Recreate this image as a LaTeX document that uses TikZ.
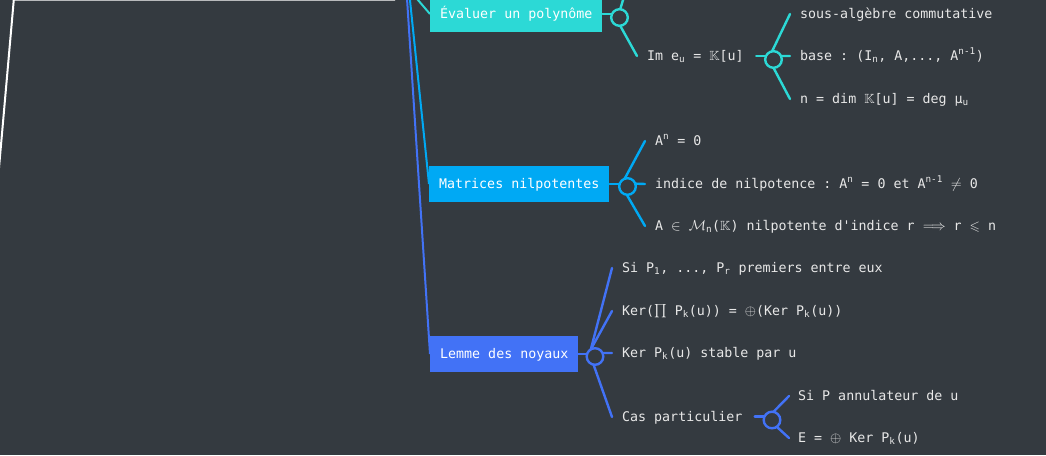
\documentclass[tikz,border=0pt]{standalone}
\usepackage{fontspec}
\usepackage{amssymb}
\setmonofont{DejaVu Sans Mono}
\usetikzlibrary{calc}
\definecolor{bg}{HTML}{343A40}
\definecolor{cyanc}{HTML}{2CD9D6}
\definecolor{lbluec}{HTML}{00A9F4}
\definecolor{bluec}{HTML}{4272F6}
\definecolor{txt}{HTML}{E8E8E8}
\pgfdeclarelayer{back}
\pgfdeclarelayer{lines}
\pgfsetlayers{back,lines,main}
\begin{document}
\begin{tikzpicture}[x=1pt,y=-1pt,
  every node/.style={font=\ttfamily\fontsize{13.3}{16}\selectfont},
  topic/.style={anchor=west, inner xsep=10pt, inner ysep=0pt, minimum height=36pt, text=white, text height=8pt, text depth=0pt},
  leaf/.style={anchor=west, inner sep=0pt, text=txt, text height=8pt, text depth=0pt},
  junc/.style={circle, draw, fill=bg, line width=2.4pt, minimum size=16.6pt, inner sep=0pt, outer sep=0pt},
  br/.style={line width=2.4pt, line cap=round},
  conn/.style={line width=2pt}]
\useasboundingbox (0,0) rectangle (1046,455);
\begin{pgfonlayer}{back}
\fill[bg] (0,0) rectangle (1046,455);
\end{pgfonlayer}
\clip (0,0) rectangle (1046,455);
% white outline of the central topic
\coordinate (w1) at (395,-0.3);
\coordinate (w2) at (13.8,-0.3);
\coordinate (w3) at (-1.2,170);
\draw[white, line width=2pt] (w1) -- (w2) -- (w3);
% hubs (off the picture)
\coordinate (hubB) at (405.8,-20);
\coordinate (hubL) at (407.9,-20);
\coordinate (hubC) at (409.4,-10);
% main topics
\node[topic, fill=cyanc] (ev) at (430,14) {Évaluer un polynôme};
\node[topic, fill=lbluec] (mat) at (429,184) {Matrices nilpotentes};
\node[topic, fill=bluec] (lem) at (430,354) {Lemme des noyaux};
% leaves
\node[leaf] (im) at (647,56) {Im e\textsubscript{u} = $\mathbb{K}$[u]};
\node[leaf] (sa) at (800,14) {sous-algèbre commutative};
\node[leaf] (base) at (800,56) {base : (I\textsubscript{n}, A,..., A\textsuperscript{n-1})};
\node[leaf] (ndim) at (800,99) {n = dim $\mathbb{K}$[u] = deg μ\textsubscript{u}};
\node[leaf] (m1) at (655,141) {A\textsuperscript{n} = 0};
\node[leaf] (m2) at (655,184) {indice de nilpotence : A\textsuperscript{n} = 0 et A\textsuperscript{n-1} $\neq$ 0};
\node[leaf] (m3) at (655,226) {A $\in$ $\mathcal{M}$\textsubscript{n}($\mathbb{K}$) nilpotente d'indice r $\Longrightarrow$ r $\leqslant$ n};
\node[leaf] (l1) at (622,268) {Si P\textsubscript{1}, ..., P\textsubscript{r} premiers entre eux};
\node[leaf] (l2) at (622,311) {Ker($\prod$ P\textsubscript{k}(u)) = $\oplus$(Ker P\textsubscript{k}(u))};
\node[leaf] (l3) at (622,353) {Ker P\textsubscript{k}(u) stable par u};
\node[leaf] (cas) at (622,417) {Cas particulier};
\node[leaf] (c1) at (798,396) {Si P annulateur de u};
\node[leaf] (c2) at (798,438) {E = $\oplus$ Ker P\textsubscript{k}(u)};
% junction circles
\node[junc, draw=cyanc] (j1) at (619.5,17.5) {};
\node[junc, draw=cyanc] (j2) at (773.5,59.5) {};
\node[junc, draw=lbluec] (j3) at (627.5,186.5) {};
\node[junc, draw=bluec] (j4) at (595,356.5) {};
\node[junc, draw=bluec] (j5) at (772,420) {};
\coordinate (evup) at (626,-10);
\begin{pgfonlayer}{lines}
% connectors to the topics
\draw[conn, bluec] (hubB) -- (lem.west);
\draw[conn, lbluec] (hubL) -- (mat.west);
\draw[conn, cyanc] (hubC) -- (ev.west);
% stubs
\draw[br, cyanc] (ev.east) -- (ev.east -| j1.west);
\draw[br, cyanc] ($(j2.west)+(-9,-3.5)$) -- ($(j2.west)+(0.8,-3.5)$);
\draw[br, lbluec] (mat.east) -- (mat.east -| j3.west);
\draw[br, bluec] (lem.east) -- (lem.east -| j4.west);
\draw[br, bluec] ($(j5.west)+(-9,-3.5)$) -- ($(j5.west)+(0.8,-3.5)$);
% branches
\draw[br, cyanc] (j1.85) -- (evup);
\draw[br, cyanc] (j1.-85) -- ([xshift=-10pt]im.west);
\draw[br, cyanc] (j2.100) -- ([xshift=-10pt]sa.west);
\draw[br, cyanc] (j2.25) -- ([xshift=-10pt]base.west);
\draw[br, cyanc] (j2.-90) -- ([xshift=-10pt]ndim.west);
\draw[br, lbluec] (j3.110) -- ([xshift=-10pt]m1.west);
\draw[br, lbluec] (j3.20) -- ([xshift=-10pt]m2.west);
\draw[br, lbluec] (j3.-95) -- ([xshift=-10pt]m3.west);
\draw[br, bluec] (j4.120) -- ([xshift=-10pt]l1.west);
\draw[br, bluec] (j4.120) -- ([xshift=-10pt]l2.west);
\draw[br, bluec] (j4.25) -- ([xshift=-10pt]l3.west);
\draw[br, bluec] (j4.-100) -- ([xshift=-10pt]cas.west);
\draw[br, bluec] (j5.80) -- ([xshift=-9pt]c1.west);
\draw[br, bluec] (j5.-55) -- ([xshift=-9pt]c2.west);
\end{pgfonlayer}
\end{tikzpicture}
\end{document}
